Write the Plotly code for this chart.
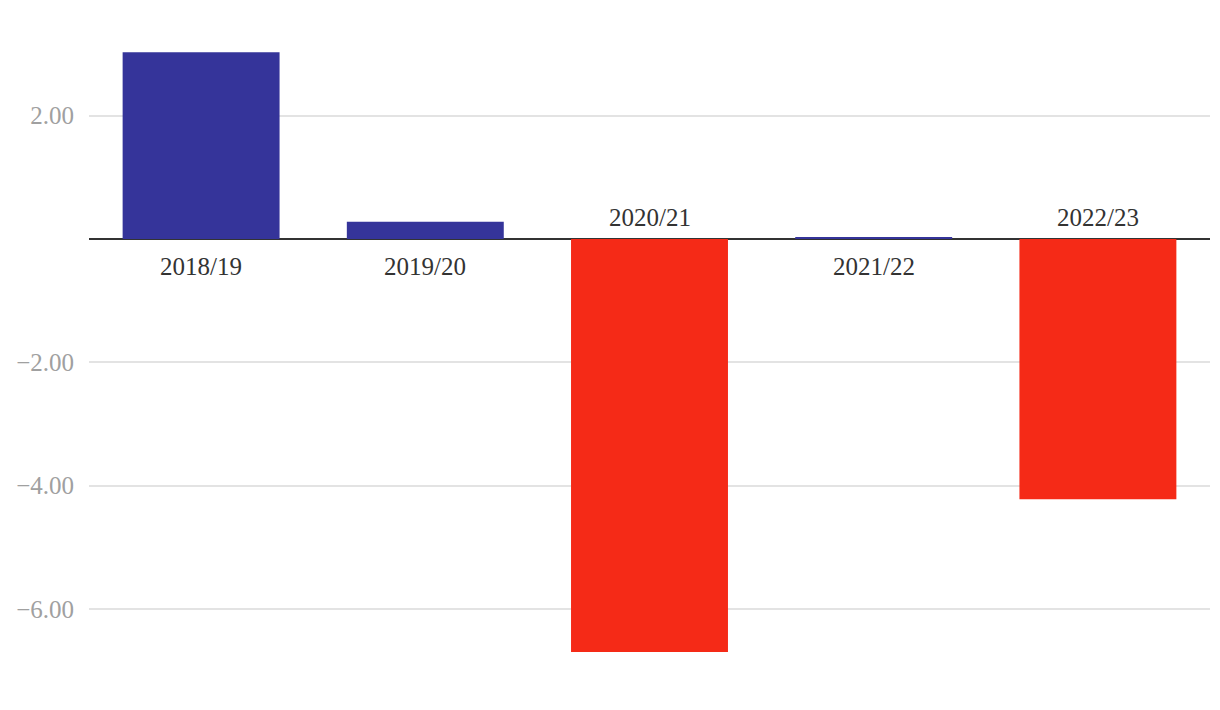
import plotly.graph_objects as go

categories = ["2018/19", "2019/20", "2020/21", "2021/22", "2022/23"]
values = [3.03, 0.28, -6.70, 0.03, -4.22]
tick_vals = [-6, -4, -2, 2]
tick_text = ["\u22126.00", "\u22124.00", "\u22122.00", "2.00"]

BLUE = "#35349A"
RED = "#F52A17"
colors = [BLUE if v >= 0 else RED for v in values]

fig = go.Figure(go.Bar(x=categories, y=values, marker_color=colors,
                       marker_line_width=0, hoverinfo="skip"))

for c, v in zip(categories, values):
    if v >= 0:
        fig.add_annotation(x=c, y=0, text=c, showarrow=False, yanchor="top",
                           yshift=-12, font=dict(family="Liberation Serif", size=25, color="#333"))
    else:
        fig.add_annotation(x=c, y=0, text=c, showarrow=False, yanchor="bottom",
                           yshift=6, font=dict(family="Liberation Serif", size=25, color="#333"))

fig.update_layout(
    width=1220, height=710,
    margin=dict(l=89, r=10, t=20, b=20),
    plot_bgcolor="white", paper_bgcolor="white",
    bargap=0.3, showlegend=False,
    font=dict(family="Liberation Serif"),
)
fig.update_xaxes(visible=False)
fig.update_yaxes(range=[-7.315, 3.552], tickvals=tick_vals, ticktext=tick_text,
                 showgrid=True, gridcolor="#e3e3e3", gridwidth=1.5,
                 zeroline=True, zerolinecolor="#333", zerolinewidth=2,
                 tickfont=dict(family="Liberation Serif", size=25, color="#a0a0a0"),
                 ticklabelstandoff=14, showline=False, ticks="")

fig.write_html("out.html")
